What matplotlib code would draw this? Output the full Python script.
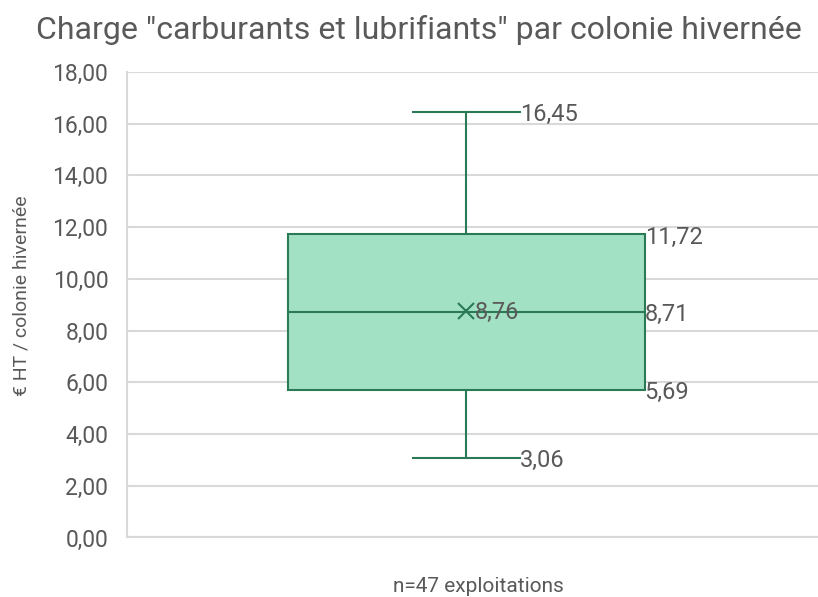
import matplotlib.pyplot as plt

plt.rcParams['font.family'] = ['Roboto', 'DejaVu Sans']

# Box statistics (€ HT / colonie hivernée)
whisker_low = 3.06
q1 = 5.69
median = 8.71
mean = 8.76
q3 = 11.72
whisker_high = 16.45
yticks = [0, 2, 4, 6, 8, 10, 12, 14, 16, 18]

green = '#2a7a55'
fill = '#a3e1c4'
txt = '#595959'
grid = '#d9d9d9'

fig = plt.figure(figsize=(8.18, 5.97), dpi=100)
ax = fig.add_axes([0.1553, 0.0997, 0.8447, 0.7797])

stats = [dict(whislo=whisker_low, q1=q1, med=median, q3=q3, whishi=whisker_high,
              mean=mean, fliers=[])]
ax.bxp(stats, positions=[1], widths=0.5265, patch_artist=True, showmeans=True,
       boxprops=dict(facecolor=fill, edgecolor=green, linewidth=1.5),
       medianprops=dict(color=green, linewidth=1.5),
       whiskerprops=dict(color=green, linewidth=1.5),
       capprops=dict(color=green, linewidth=1.5),
       capwidths=0.158,
       meanprops=dict(marker='x', markeredgecolor=green, markersize=12,
                      markeredgewidth=1.5),
       zorder=3)

# Data labels
box_right = 1 + 0.5265 / 2
cap_right = 1 + 0.158 / 2
for v, x in [(whisker_high, cap_right), (whisker_low, cap_right),
             (q3, box_right), (median, box_right), (q1, box_right)]:
    ax.text(x, v - 0.1, f"{v:.2f}".replace('.', ','), ha='left', va='center',
            fontsize=17, color=txt, zorder=4)
ax.text(1.013, mean - 0.05, f"{mean:.2f}".replace('.', ','), ha='left', va='center',
        fontsize=17, color=txt, zorder=4)

ax.set_xlim(0.5, 1.519)
ax.set_ylim(0, 18)
ax.set_yticks(yticks)
ax.set_yticklabels([f"{t:.2f}".replace('.', ',') for t in yticks], fontsize=16.5, color=txt)
ax.set_xticks([])
ax.tick_params(axis='y', length=0, pad=13.5)
ax.yaxis.grid(True, color=grid, linewidth=1.5)
ax.set_axisbelow(True)
for s in ['top', 'right']:
    ax.spines[s].set_visible(False)
for s in ['left', 'bottom']:
    ax.spines[s].set_color(grid)
    ax.spines[s].set_linewidth(1.5)

ax.set_ylabel("€ HT / colonie hivernée", fontsize=14, color=txt)
ax.yaxis.label.set_va('center')
ax.yaxis.set_label_coords(-0.153, 0.52)
ax.set_xlabel("n=47 exploitations", fontsize=15, color=txt)
ax.xaxis.label.set_va('center')
ax.xaxis.set_label_coords(0.508, -0.106)
fig.text(0.512, 0.95, 'Charge "carburants et lubrifiants" par colonie hivernée',
         ha='center', va='center', fontsize=23, color=txt)

fig.savefig("out.png", dpi=100)
